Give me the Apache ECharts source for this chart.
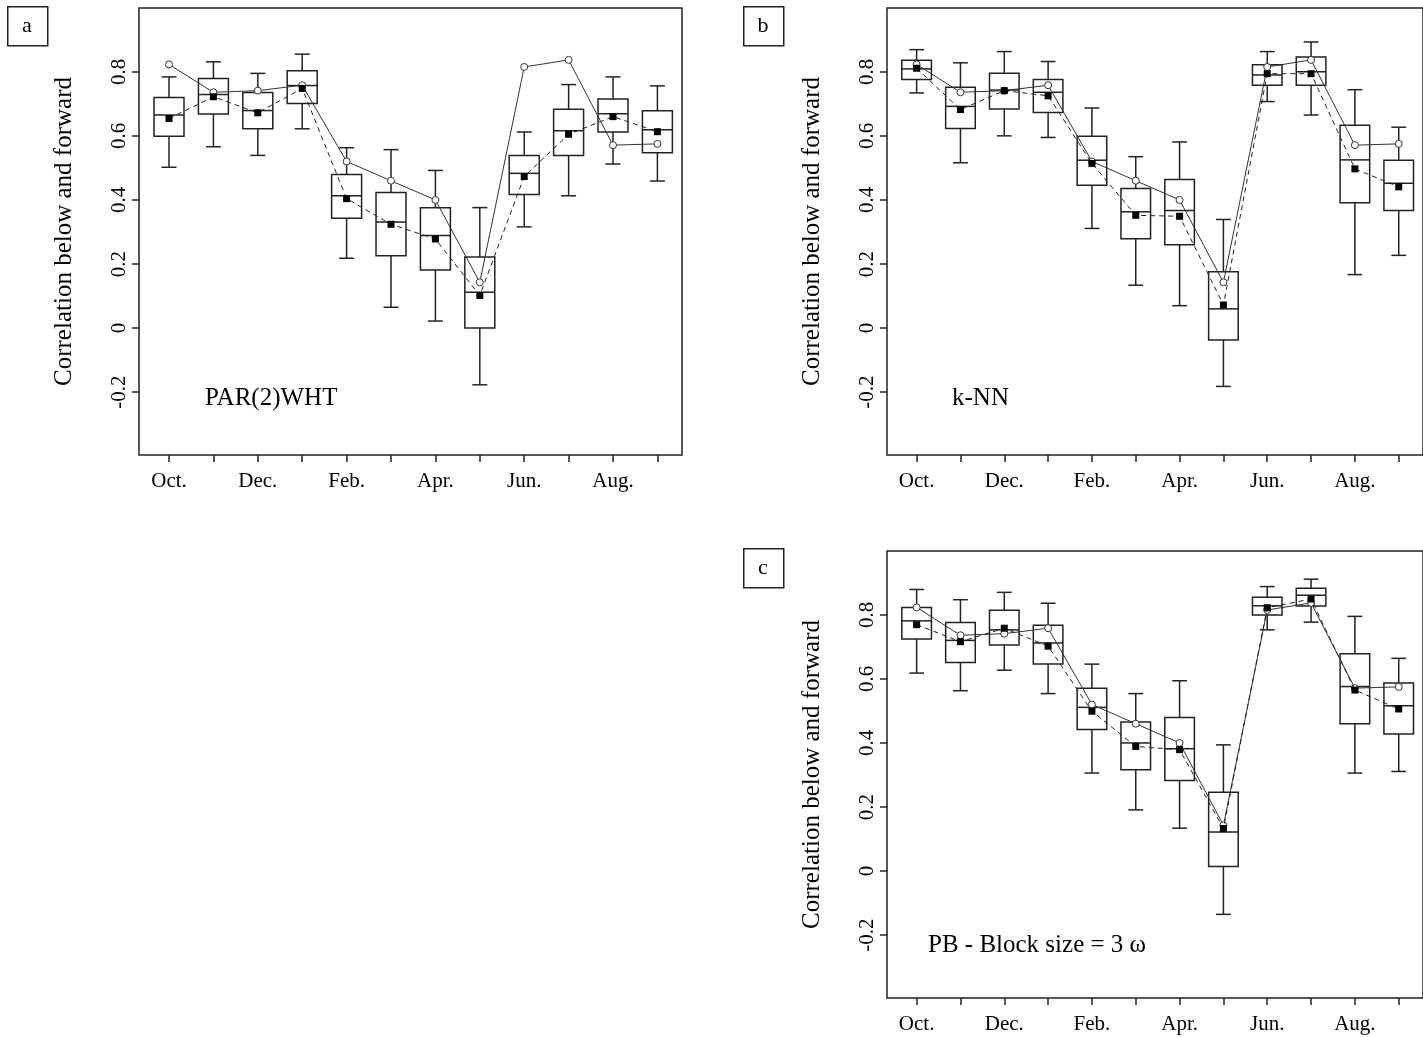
<!DOCTYPE html>
<html>
<head>
<meta charset="utf-8">
<script src="https://cdn.jsdelivr.net/npm/echarts@6/dist/echarts.min.js"></script>
<style>
html,body{margin:0;padding:0;background:#fff}
#main{width:1423px;height:1037px}
</style>
</head>
<body>
<div id="main"></div>
<script>
// month categories, Oct -> Sep
var months = ['Oct.', 'Nov.', 'Dec.', 'Jan.', 'Feb.', 'Mar.', 'Apr.', 'May', 'Jun.', 'Jul.', 'Aug.', 'Sep.'];
var xTickPos = [0, 1, 2, 3, 4, 5, 6, 7, 8, 9, 10, 11];
var xLabelPos = [0, 2, 4, 6, 8, 10];
var yTicks = [-0.2, 0, 0.2, 0.4, 0.6, 0.8];

// observed (historical) correlation, same in every panel
var historical = [0.823, 0.736, 0.741, 0.758, 0.520, 0.460, 0.400, 0.143, 0.815, 0.837, 0.571, 0.575];

// boxes: [lower whisker, Q1, median, Q3, upper whisker]
var parBoxes = [
    [0.502, 0.599, 0.665, 0.720, 0.784],
    [0.566, 0.668, 0.729, 0.779, 0.831],
    [0.539, 0.622, 0.679, 0.735, 0.795],
    [0.622, 0.701, 0.757, 0.803, 0.855],
    [0.218, 0.343, 0.413, 0.479, 0.563],
    [0.065, 0.226, 0.331, 0.423, 0.557],
    [0.022, 0.181, 0.289, 0.376, 0.492],
    [-0.177, 0.000, 0.112, 0.222, 0.376],
    [0.316, 0.417, 0.483, 0.539, 0.612],
    [0.413, 0.539, 0.616, 0.683, 0.760],
    [0.512, 0.612, 0.669, 0.715, 0.784],
    [0.459, 0.547, 0.619, 0.678, 0.756]
];
var parMean = [0.654, 0.722, 0.672, 0.748, 0.404, 0.324, 0.278, 0.102, 0.473, 0.605, 0.660, 0.613];

var knnBoxes = [
    [0.734, 0.776, 0.809, 0.836, 0.869],
    [0.516, 0.623, 0.692, 0.752, 0.828],
    [0.600, 0.684, 0.743, 0.795, 0.863],
    [0.595, 0.673, 0.736, 0.776, 0.832],
    [0.311, 0.446, 0.524, 0.599, 0.687],
    [0.134, 0.279, 0.363, 0.436, 0.535],
    [0.070, 0.260, 0.367, 0.464, 0.581],
    [-0.182, -0.037, 0.060, 0.176, 0.339],
    [0.707, 0.758, 0.790, 0.822, 0.863],
    [0.665, 0.758, 0.800, 0.846, 0.893],
    [0.167, 0.391, 0.525, 0.633, 0.744],
    [0.227, 0.367, 0.452, 0.524, 0.627]
];
var knnMean = [0.811, 0.682, 0.741, 0.725, 0.514, 0.352, 0.349, 0.072, 0.794, 0.794, 0.497, 0.441];

var pbBoxes = [
    [0.618, 0.724, 0.781, 0.823, 0.879],
    [0.563, 0.651, 0.720, 0.776, 0.847],
    [0.627, 0.706, 0.753, 0.814, 0.870],
    [0.554, 0.646, 0.712, 0.767, 0.836],
    [0.306, 0.442, 0.511, 0.571, 0.646],
    [0.191, 0.316, 0.400, 0.465, 0.554],
    [0.134, 0.283, 0.382, 0.479, 0.594],
    [-0.135, 0.014, 0.122, 0.246, 0.394],
    [0.753, 0.799, 0.828, 0.855, 0.888],
    [0.777, 0.827, 0.861, 0.883, 0.911],
    [0.306, 0.460, 0.576, 0.678, 0.795],
    [0.311, 0.428, 0.516, 0.587, 0.664]
];
var pbMean = [0.769, 0.716, 0.758, 0.702, 0.499, 0.389, 0.379, 0.133, 0.822, 0.849, 0.565, 0.506];

var panelNames = ['PAR(2)WHT', 'k-NN', 'PB - Block size = 3 \u03c9'];
var panelLetters = ['a', 'b', 'c'];
var yTitle = 'Correlation below and forward';

var FONT = "'Liberation Serif', 'DejaVu Serif', serif";
var INK = '#222';

// plot frames (R style)
var panels = [
    {left: 139, top: 8, boxes: parBoxes, mean: parMean, textX: 205, textY: 398, tagX: 7, tagY: 6},
    {left: 887, top: 8, boxes: knnBoxes, mean: knnMean, textX: 952, textY: 398, tagX: 743, tagY: 6},
    {left: 887, top: 551, boxes: pbBoxes, mean: pbMean, textX: 928, textY: 945, tagX: 743, tagY: 548}
];
var frameW = 543, frameH = 447;
var xMin = -0.676, xMax = 11.554;
var yMin = -0.396, yMax = 0.999;
var boxRatio = 0.675;

function renderBox(params, api) {
    var i = api.value(0);
    var lo = api.coord([i, api.value(1)]);
    var q1 = api.coord([i, api.value(2)]);
    var md = api.coord([i, api.value(3)]);
    var q3 = api.coord([i, api.value(4)]);
    var hi = api.coord([i, api.value(5)]);
    var half = api.size([1, 0])[0] * boxRatio / 2;
    var cap = half / 2;
    var x = md[0];
    var st = {stroke: INK, lineWidth: 1.5, fill: 'none'};
    return {
        type: 'group',
        children: [
            {type: 'rect', shape: {x: x - half, y: q3[1], width: half * 2, height: q1[1] - q3[1]}, style: st},
            {type: 'line', shape: {x1: x - half, y1: md[1], x2: x + half, y2: md[1]}, style: st},
            {type: 'line', shape: {x1: x, y1: q3[1], x2: x, y2: hi[1]}, style: st},
            {type: 'line', shape: {x1: x, y1: q1[1], x2: x, y2: lo[1]}, style: st},
            {type: 'line', shape: {x1: x - cap, y1: hi[1], x2: x + cap, y2: hi[1]}, style: st},
            {type: 'line', shape: {x1: x - cap, y1: lo[1], x2: x + cap, y2: lo[1]}, style: st}
        ]
    };
}

var grids = [], xAxes = [], yAxes = [], series = [], graphics = [];

for (var k = 0; k < panels.length; k++) {
    var p = panels[k];
    grids.push({
        left: p.left, top: p.top, width: frameW, height: frameH,
        show: true, borderColor: INK, borderWidth: 1.5, backgroundColor: 'transparent'
    });
    xAxes.push({
        type: 'value', gridIndex: k, min: xMin, max: xMax,
        axisLine: {show: false, onZero: false},
        splitLine: {show: false},
        axisTick: {show: true, inside: false, length: 7, customValues: xTickPos, lineStyle: {color: INK, width: 1.5}},
        axisLabel: {
            customValues: xLabelPos, margin: 16, color: '#000', fontFamily: FONT, fontSize: 21,
            formatter: function (v) { return months[Math.round(v)]; }
        }
    });
    yAxes.push({
        type: 'value', gridIndex: k, min: yMin, max: yMax,
        axisLine: {show: false, onZero: false},
        splitLine: {show: false},
        axisTick: {show: true, inside: false, length: 7, customValues: yTicks, lineStyle: {color: INK, width: 1.5}},
        axisLabel: {
            customValues: yTicks, rotate: 90, margin: 9, color: '#000', fontFamily: FONT, fontSize: 21,
            formatter: function (v) { return Math.abs(v) < 1e-9 ? '0' : v.toFixed(1); }
        },
        name: yTitle, nameLocation: 'middle', nameRotate: 90, nameGap: 62,
        nameTextStyle: {color: '#000', fontFamily: FONT, fontSize: 25}
    });

    var boxData = [];
    for (var i = 0; i < p.boxes.length; i++) {
        boxData.push([i].concat(p.boxes[i]));
    }
    series.push({
        type: 'custom', xAxisIndex: k, yAxisIndex: k, z: 2,
        renderItem: renderBox,
        encode: {x: 0, y: [1, 2, 3, 4, 5]},
        data: boxData
    });
    series.push({
        type: 'line', xAxisIndex: k, yAxisIndex: k, z: 3,
        data: historical.map(function (v, i) { return [i, v]; }),
        symbol: 'circle', symbolSize: 7,
        lineStyle: {color: '#333', width: 1},
        itemStyle: {color: '#fff', borderColor: '#333', borderWidth: 1}
    });
    series.push({
        type: 'line', xAxisIndex: k, yAxisIndex: k, z: 4,
        data: p.mean.map(function (v, i) { return [i, v]; }),
        symbol: 'rect', symbolSize: 7,
        lineStyle: {color: '#222', width: 1, type: [5, 4]},
        itemStyle: {color: '#000'}
    });

    // panel tag box
    graphics.push({
        type: 'rect', left: p.tagX, top: p.tagY,
        shape: {width: 40, height: 39},
        style: {fill: '#fff', stroke: INK, lineWidth: 1.5}
    });
    graphics.push({
        type: 'text', x: p.tagX + 20, y: p.tagY + 20,
        style: {text: panelLetters[k], font: '22px ' + FONT, fill: '#000', textAlign: 'center', textVerticalAlign: 'middle'}
    });
    // method name inside plot
    graphics.push({
        type: 'text', x: p.textX, y: p.textY,
        style: {text: panelNames[k], font: '25px ' + FONT, fill: '#000', textAlign: 'left', textVerticalAlign: 'middle'}
    });
}

var myChart = echarts.init(document.getElementById('main'));
myChart.setOption({
    animation: false,
    backgroundColor: '#fff',
    grid: grids,
    xAxis: xAxes,
    yAxis: yAxes,
    series: series,
    graphic: graphics
});
</script>
</body>
</html>
